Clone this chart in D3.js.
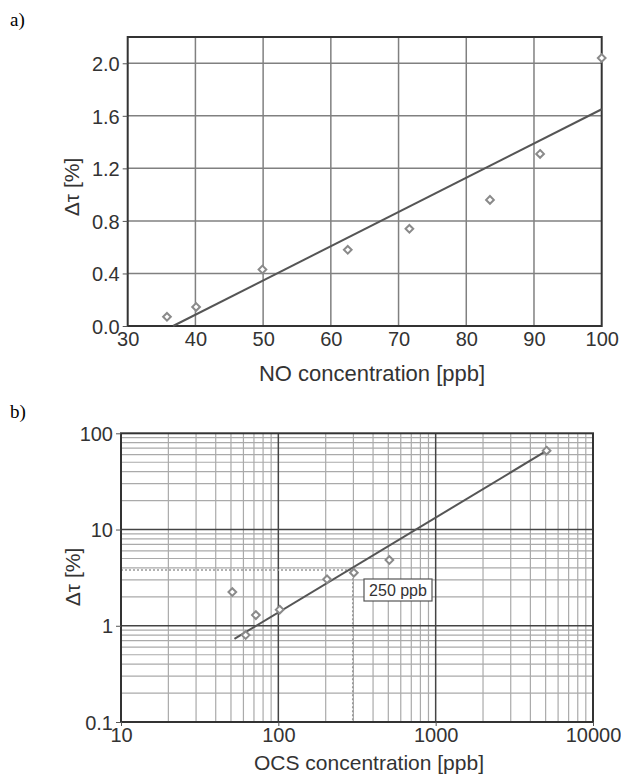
<!DOCTYPE html>
<meta charset="utf-8">
<style>
body { margin: 0; background: #fff; }
svg { display: block; }
text { font-family: "Liberation Sans", Arial, sans-serif; fill: #333; }
.panel { font-family: "Liberation Serif", "Times New Roman", serif; fill: #000; }
</style>
<svg width="621" height="778" id="chart"></svg>
<script src="https://d3js.org/d3.v7.min.js"></script>
<script>

// panel a) NO
var noTicksX = [30, 40, 50, 60, 70, 80, 90, 100];
var noTicksY = [0, 0.4, 0.8, 1.2, 1.6, 2.0];
var noConc  = [35.8, 40.1, 49.9, 62.5, 71.6, 83.5, 90.9, 100];
var noDelta = [0.07, 0.145, 0.43, 0.58, 0.74, 0.96, 1.31, 2.04];
var noFitX = [36.7, 100];
var noFitY = [0, 1.65];

// panel b) OCS
var ocsTicksX = [10, 100, 1000, 10000];
var ocsTicksY = [0.1, 1, 10, 100];
var ocsConc  = [51, 62, 72, 102, 204, 302, 508, 5070];
var ocsDelta = [2.24, 0.80, 1.29, 1.47, 3.04, 3.56, 4.82, 66];
var ocsFitX = [52.6, 5080];
var ocsFitY = [0.73, 66];
var markConc = 297, markDelta = 3.8, markLabel = "250 ppb";

var svg = d3.select("svg#chart");

function diamond(g, pts, x, y) {
  g.selectAll("path.pt")
    .data(pts)
    .enter().append("path")
      .attr("class", "pt")
      .attr("d", d3.symbol().type(d3.symbolDiamond2).size(38))
      .attr("transform", function(d) { return "translate(" + x(d[0]) + "," + y(d[1]) + ")"; })
      .attr("fill", "#fff")
      .attr("stroke", "#8a8a8a")
      .attr("stroke-width", 2);
}

// ---------- a) ----------
var xa = d3.scaleLinear().domain([30, 100]).range([127.7, 601.7]),
    ya = d3.scaleLinear().domain([0, 2.2]).range([326, 37]);

var ga = svg.append("g");

ga.append("text").attr("class", "panel")
    .attr("x", 10).attr("y", 26).style("font-size", "19px").text("a)");

ga.selectAll("line.vx")
  .data(noTicksX.slice(1, -1))
  .enter().append("line")
    .attr("x1", xa).attr("x2", xa)
    .attr("y1", ya(0)).attr("y2", ya(2.2))
    .attr("stroke", "#808080").attr("stroke-width", 1.5);

ga.selectAll("line.hy")
  .data(noTicksY.slice(1))
  .enter().append("line")
    .attr("x1", xa(30)).attr("x2", xa(100))
    .attr("y1", ya).attr("y2", ya)
    .attr("stroke", "#808080").attr("stroke-width", 1.5);

ga.append("rect")
    .attr("x", xa(30)).attr("y", ya(2.2))
    .attr("width", xa(100) - xa(30)).attr("height", ya(0) - ya(2.2))
    .attr("fill", "none").attr("stroke", "#333").attr("stroke-width", 2);

ga.append("g")
    .attr("transform", "translate(0," + ya(0) + ")")
    .call(d3.axisBottom(xa).tickValues(noTicksX).tickSize(0).tickPadding(6))
    .call(function(a) {
      a.select(".domain").remove();
      a.selectAll("text").style("font-size", "20px").attr("fill", "#333");
    });

ga.append("g")
    .attr("transform", "translate(" + xa(30) + ",0)")
    .call(d3.axisLeft(ya).tickValues(noTicksY).tickFormat(d3.format(".1f")).tickSize(5).tickPadding(3))
    .call(function(a) {
      a.select(".domain").remove();
      a.selectAll("line").attr("stroke", "#555");
      a.selectAll("text").style("font-size", "20px").attr("fill", "#333").attr("dy", "0.36em");
    });

ga.append("line")
    .attr("x1", xa(noFitX[0])).attr("y1", ya(noFitY[0]))
    .attr("x2", xa(noFitX[1])).attr("y2", ya(noFitY[1]))
    .attr("stroke", "#555").attr("stroke-width", 2);

diamond(ga, d3.zip(noConc, noDelta), xa, ya);

ga.append("text")
    .attr("transform", "translate(79,187) rotate(-90)")
    .attr("text-anchor", "middle")
    .style("font-size", "21px")
    .text("\u0394\u03c4 [%]");

ga.append("text")
    .attr("x", 372).attr("y", 381)
    .attr("text-anchor", "middle")
    .style("font-size", "22px")
    .text("NO concentration [ppb]");

// ---------- b) ----------
var xb = d3.scaleLog().domain([10, 10000]).range([121, 593]),
    yb = d3.scaleLog().domain([0.1, 100]).range([722, 433.3]);

var gb = svg.append("g");

gb.append("text").attr("class", "panel")
    .attr("x", 10).attr("y", 418).style("font-size", "19px").text("b)");

var minorX = [], minorY = [];
[10, 100, 1000].forEach(function(d) { for (var k = 2; k < 10; k++) minorX.push(d * k); });
[0.1, 1, 10].forEach(function(d) { for (var k = 2; k < 10; k++) minorY.push(d * k); });

gb.selectAll("line.mx")
  .data(minorX)
  .enter().append("line")
    .attr("x1", xb).attr("x2", xb)
    .attr("y1", yb(0.1)).attr("y2", yb(100))
    .attr("stroke", "#aaa").attr("stroke-width", 1.2);

gb.selectAll("line.my")
  .data(minorY)
  .enter().append("line")
    .attr("x1", xb(10)).attr("x2", xb(10000))
    .attr("y1", yb).attr("y2", yb)
    .attr("stroke", "#aaa").attr("stroke-width", 1.2);

gb.selectAll("line.Mx")
  .data(ocsTicksX.slice(1, -1))
  .enter().append("line")
    .attr("x1", xb).attr("x2", xb)
    .attr("y1", yb(0.1)).attr("y2", yb(100))
    .attr("stroke", "#444").attr("stroke-width", 1.5);

gb.selectAll("line.My")
  .data(ocsTicksY.slice(1, -1))
  .enter().append("line")
    .attr("x1", xb(10)).attr("x2", xb(10000))
    .attr("y1", yb).attr("y2", yb)
    .attr("stroke", "#444").attr("stroke-width", 1.5);

// dotted guide for 250 ppb
gb.append("path")
    .attr("d", "M" + xb(10) + "," + yb(markDelta) + "H" + xb(markConc) + "V" + yb(0.1))
    .attr("fill", "none").attr("stroke", "#999").attr("stroke-width", 1.5)
    .attr("stroke-dasharray", "2,2");

gb.append("rect")
    .attr("x", xb(10)).attr("y", yb(100))
    .attr("width", xb(10000) - xb(10)).attr("height", yb(0.1) - yb(100))
    .attr("fill", "none").attr("stroke", "#333").attr("stroke-width", 2);

gb.append("g")
    .attr("transform", "translate(0," + yb(0.1) + ")")
    .call(d3.axisBottom(xb).tickValues(ocsTicksX).tickFormat(d3.format("d")).tickSize(4).tickPadding(2))
    .call(function(a) {
      a.select(".domain").remove();
      a.selectAll("line").attr("stroke", "#555");
      a.selectAll("text").style("font-size", "20px").attr("fill", "#333");
    });

gb.append("g")
    .attr("transform", "translate(" + xb(10) + ",0)")
    .call(d3.axisLeft(yb).tickValues(ocsTicksY).tickFormat(function(d) { return d < 1 ? d3.format(".1f")(d) : d3.format("d")(d); }).tickSize(5).tickPadding(3))
    .call(function(a) {
      a.select(".domain").remove();
      a.selectAll("line").attr("stroke", "#555");
      a.selectAll("text").style("font-size", "20px").attr("fill", "#333").attr("dy", "0.36em");
    });

gb.append("line")
    .attr("x1", xb(ocsFitX[0])).attr("y1", yb(ocsFitY[0]))
    .attr("x2", xb(ocsFitX[1])).attr("y2", yb(ocsFitY[1]))
    .attr("stroke", "#555").attr("stroke-width", 2);

diamond(gb, d3.zip(ocsConc, ocsDelta), xb, yb);

var lbl = gb.append("g").attr("transform", "translate(364,579)");
lbl.append("rect")
    .attr("width", 68).attr("height", 22)
    .attr("fill", "#fff").attr("stroke", "#555").attr("stroke-width", 1.2);
lbl.append("text")
    .attr("x", 34).attr("y", 17)
    .attr("text-anchor", "middle")
    .style("font-size", "16px")
    .text(markLabel);

gb.append("text")
    .attr("transform", "translate(80,577) rotate(-90)")
    .attr("text-anchor", "middle")
    .style("font-size", "21px")
    .text("\u0394\u03c4 [%]");

gb.append("text")
    .attr("x", 369).attr("y", 770)
    .attr("text-anchor", "middle")
    .style("font-size", "21px")
    .text("OCS concentration [ppb]");

</script>
